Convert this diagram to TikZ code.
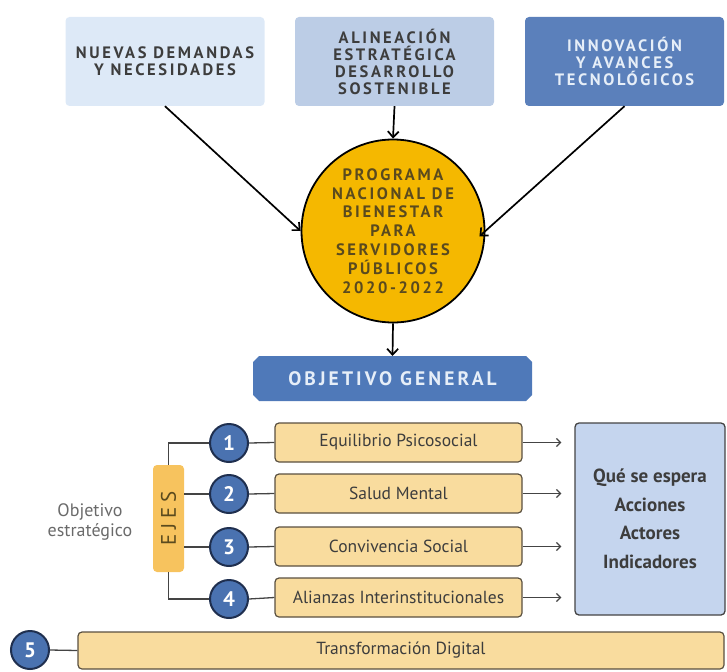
\documentclass[tikz,border=0pt]{standalone}
\usepackage{fontspec}
\setmainfont{PT Sans}
\newfontfamily\tracked[LetterSpace=16]{PT Sans}
\newfontfamily\trackedw[LetterSpace=22]{PT Sans}
\usetikzlibrary{arrows.meta}
\definecolor{boxA}{HTML}{DDE9F7}
\definecolor{boxB}{HTML}{BCCDE6}
\definecolor{boxC}{HTML}{5B80BB}
\definecolor{gold}{HTML}{F5B800}
\definecolor{goldtext}{HTML}{5A4A1E}
\definecolor{banner}{HTML}{4F79B9}
\definecolor{bannertext}{HTML}{E6EEF8}
\definecolor{numblue}{HTML}{4A72B0}
\definecolor{navy}{HTML}{1F2F4F}
\definecolor{peach}{HTML}{F9DC9E}
\definecolor{peachline}{HTML}{5A5040}
\definecolor{ejesfill}{HTML}{F7C35E}
\definecolor{resfill}{HTML}{C5D5EE}
\definecolor{darktext}{HTML}{3D3D3D}
\definecolor{graytext}{HTML}{6A6A6A}
\definecolor{connc}{HTML}{444444}
\begin{document}
\begin{tikzpicture}[x=1pt,y=-1pt,
  topbox/.style={rounded corners=4pt, minimum width=199pt, minimum height=89pt, align=center,
    font=\tracked\bfseries\fontsize{16.5}{17}\selectfont, inner sep=2pt},
  bigarr/.style={line width=1.7pt, -{Straight Barb[length=6pt,width=11pt,line width=1.7pt]}},
  num/.style={circle, fill=numblue, draw=navy, line width=2pt, minimum size=38pt, inner sep=0pt,
    text=white, font=\bfseries\fontsize{21}{21}\selectfont},
  axbox/.style={draw=peachline, line width=1.2pt, fill=peach, rounded corners=4pt,
    minimum width=247pt, minimum height=39pt, text=darktext, font=\fontsize{17.5}{19}\selectfont},
  conn/.style={draw=connc, line width=1.3pt},
  sarr/.style={draw=connc, line width=1.3pt, -{Straight Barb[length=4pt,width=8pt,line width=1.3pt]}}
]
\useasboundingbox (0,0) rectangle (727,671);

% top boxes
\node[topbox, fill=boxA, text=darktext] (b1) at (165,61.5) {NUEVAS DEMANDAS\\Y NECESIDADES};
\node[topbox, fill=boxB, text=darktext] (b2) at (394.5,61.5) {ALINEACIÓN\\ESTRATÉGICA\\DESARROLLO\\SOSTENIBLE};
\node[topbox, fill=boxC, text=bannertext] (b3) at (624.5,61.5) {INNOVACIÓN\\Y AVANCES\\TECNOLÓGICOS};

% central circle
\node[circle, draw=black, line width=1.8pt, fill=gold, minimum size=183pt, inner sep=0pt,
  align=center, text=goldtext, font=\tracked\bfseries\fontsize{16.5}{18.8}\selectfont]
  (prog) at (393,231) {PROGRAMA\\NACIONAL DE\\BIENESTAR\\PARA\\SERVIDORES\\PÚBLICOS\\2020-2022};

\draw[bigarr] (b1.south) -- (prog.west);
\draw[bigarr] (b2.south) -- (prog.north);
\draw[bigarr, shorten >=-8pt] (b3.south) -- (prog.east);

% banner
\fill[banner] (259,356) -- (526,356) -- (532,362) -- (532,395) -- (526,401) -- (259,401) -- (253,395) -- (253,362) -- cycle;
\node[text=bannertext, font=\tracked\bfseries\fontsize{19.5}{21}\selectfont] (ban) at (392.5,378.5) {OBJETIVO GENERAL};
\draw[bigarr] (prog.south) -- (ban.north |- 0,356);

% ejes
\node[fill=ejesfill, rounded corners=4pt, minimum width=31pt, minimum height=107pt, inner sep=0pt] (ejes) at (168.5,518.5) {};
\node[rotate=90, text=goldtext, font=\trackedw\fontsize{21}{21}\selectfont] (ejest) at (ejes.center) {EJES};

\node[align=center, text=graytext, font=\fontsize{18}{20}\selectfont] (obj) at (90,522) {Objetivo\\estratégico};

\node[num] (n1) at (229,443) {1};
\node[num] (n2) at (229,494) {2};
\node[num] (n3) at (229,547) {3};
\node[num] (n4) at (229,599) {4};
\node[num] (n5) at (30,650) {5};

\node[axbox] (e1) at (398.5,442.5) {Equilibrio Psicosocial};
\node[axbox] (e2) at (398.5,493.5) {Salud Mental};
\node[axbox] (e3) at (398.5,546.5) {Convivencia Social};
\node[axbox] (e4) at (398.5,597.5) {Alianzas Interinstitucionales};
\node[axbox, minimum width=646pt, minimum height=37pt] (td) at (401,650.5) {Transformación Digital};

\node[draw=connc, line width=1.3pt, fill=resfill, rounded corners=4pt, minimum width=150pt, minimum height=192pt,
  align=center, text=darktext, font=\bfseries\fontsize{19}{28.5}\selectfont] (res) at (650,519)
  {Qué se espera\\Acciones\\Actores\\Indicadores};

% bracket connectors
\draw[conn] (ejes.north) |- (n1.west);
\draw[conn] (ejes.south) |- (n4.west);
\draw[conn] (n2.west -| ejes.east) -- (n2.west);
\draw[conn] (n3.west -| ejes.east) -- (n3.west);

\draw[conn] (n1.east) -- (e1.west);
\draw[conn] (n2.east) -- (e2.west);
\draw[conn] (n3.east) -- (e3.west);
\draw[conn] (n4.east) -- (e4.west);
\draw[conn] (n5.east) -- (td.west);

\draw[sarr, shorten >=13pt] (e1.east) -- (e1.east -| res.west);
\draw[sarr, shorten >=13pt] (e2.east) -- (e2.east -| res.west);
\draw[sarr, shorten >=13pt] (e3.east) -- (e3.east -| res.west);
\draw[sarr, shorten >=13pt] (e4.east) -- (e4.east -| res.west);
\end{tikzpicture}
\end{document}
